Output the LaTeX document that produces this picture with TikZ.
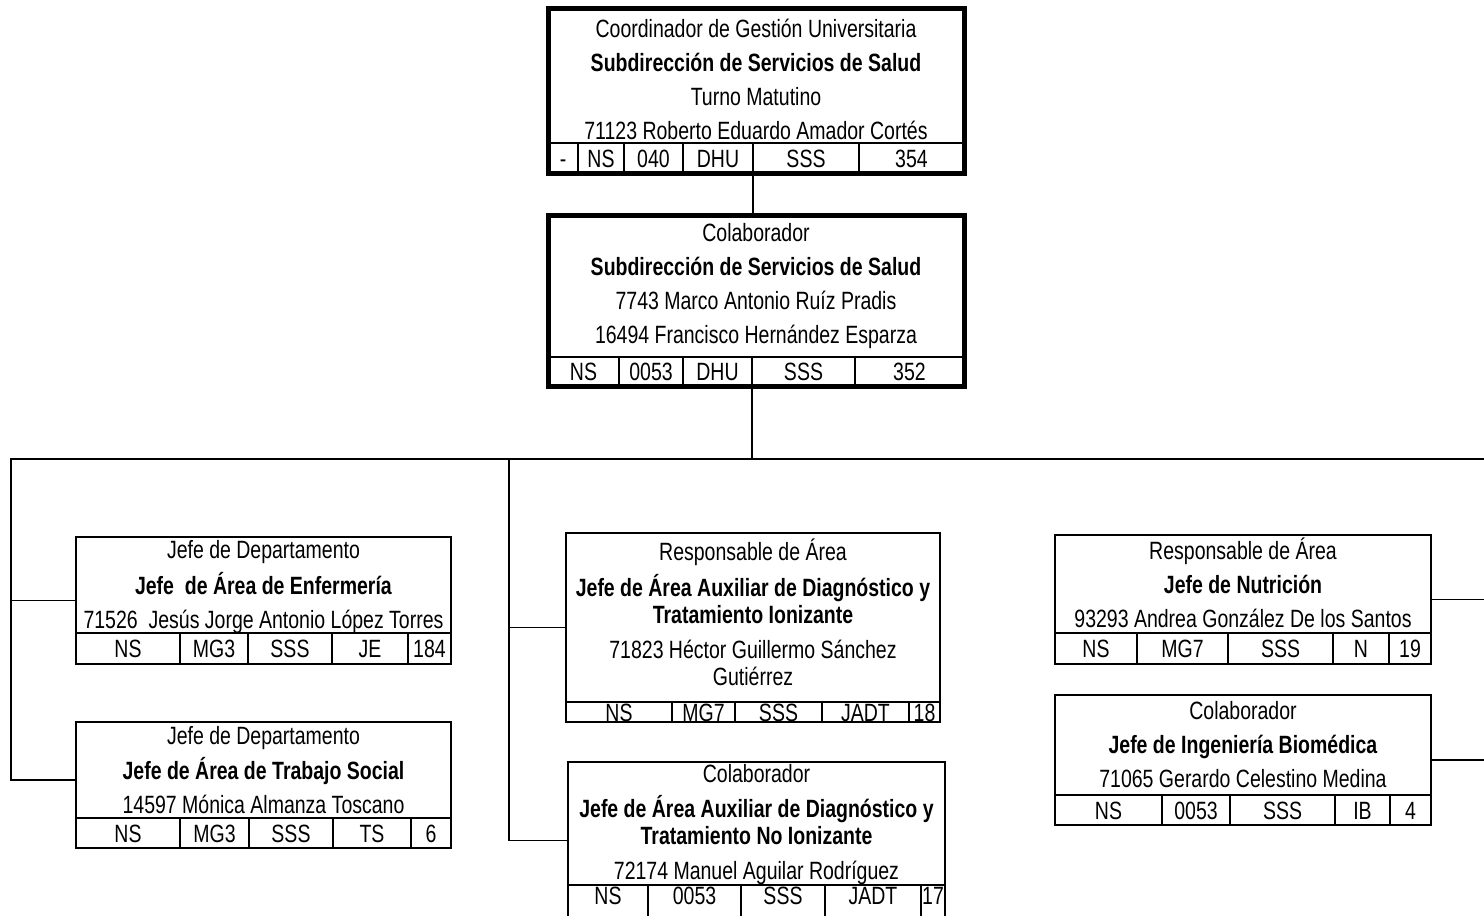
\documentclass[tikz,border=0pt]{standalone}
\usepackage{fontspec}
\setmainfont{Liberation Sans}[FakeStretch=0.78]
\usetikzlibrary{positioning,fit}

\tikzstyle{every node}=[font=\fontsize{25}{27}\selectfont, inner sep=0pt, outer sep=0pt]
\tikzstyle{area}=[anchor=north west, align=center]
\tikzstyle{cell}=[draw, line width=1.8pt, anchor=north west, minimum height=30pt, text height=18pt, text depth=0pt]
\tikzstyle{frame}=[draw, line width=2.8pt]
\tikzstyle{bigframe}=[draw, line width=5pt]
\tikzstyle{link}=[draw, line width=1.8pt]

\begin{document}
\begin{tikzpicture}[x=1pt,y=-1pt]
    \useasboundingbox (0,0) rectangle (1484,916);

    % coordinador
    \node[area, minimum width=416pt, minimum height=142pt] (A) at (548,8)
      {Coordinador de Gestión Universitaria\\[7pt]\textbf{Subdirección de Servicios de Salud}\\[7pt]Turno Matutino\\[7pt]71123 Roberto Eduardo Amador Cortés};
    \node[cell, minimum width=30pt] (a1) at (548,143) {-};
    \node[cell, minimum width=46pt, right=0pt of a1] (a2) {NS};
    \node[cell, minimum width=59pt, right=0pt of a2] (a3) {040};
    \node[cell, minimum width=70pt, right=0pt of a3] (a4) {DHU};
    \node[cell, minimum width=106pt, right=0pt of a4] (a5) {SSS};
    \node[cell, minimum width=105pt, right=0pt of a5] (a6) {354};
    \node[bigframe, fit=(A)(a6)] (Af) {};

    % colaborador
    \node[area, minimum width=416pt, minimum height=142pt] (B) at (548,215)
      {Colaborador\\[7pt]\textbf{Subdirección de Servicios de Salud}\\[7pt]7743 Marco Antonio Ruíz Pradis\\[7pt]16494 Francisco Hernández Esparza};
    \node[cell, minimum width=71pt, minimum height=29pt] (b1) at (548,357) {NS};
    \node[cell, minimum width=64pt, minimum height=29pt, right=0pt of b1] (b2) {0053};
    \node[cell, minimum width=69pt, minimum height=29pt, right=0pt of b2] (b3) {DHU};
    \node[cell, minimum width=103pt, minimum height=29pt, right=0pt of b3] (b4) {SSS};
    \node[cell, minimum width=109pt, minimum height=29pt, right=0pt of b4] (b5) {352};
    \node[bigframe, fit=(B)(b5)] (Bf) {};

    % enfermeria
    \node[area, minimum width=375pt, minimum height=100pt] (C) at (76,537)
      {Jefe de Departamento\\[7pt]\textbf{Jefe\ \ de Área de Enfermería}\\[7pt]71526\ \ Jesús Jorge Antonio López Torres};
    \node[cell, minimum width=104pt, minimum height=31pt] (c1) at (76,633) {NS};
    \node[cell, minimum width=68pt, minimum height=31pt, right=0pt of c1] (c2) {MG3};
    \node[cell, minimum width=84pt, minimum height=31pt, right=0pt of c2] (c3) {SSS};
    \node[cell, minimum width=76pt, minimum height=31pt, right=0pt of c3] (c4) {JE};
    \node[cell, minimum width=43pt, minimum height=31pt, right=0pt of c4] (c5) {184};
    \node[frame, fit=(C)(c5)] (Cf) {};

    % trabajo social
    \node[area, minimum width=375pt, minimum height=96pt] (D) at (76,722)
      {Jefe de Departamento\\[7pt]\textbf{Jefe de Área de Trabajo Social}\\[7pt]14597 Mónica Almanza Toscano};
    \node[cell, minimum width=104pt] (d1) at (76,818) {NS};
    \node[cell, minimum width=69pt, right=0pt of d1] (d2) {MG3};
    \node[cell, minimum width=84pt, right=0pt of d2] (d3) {SSS};
    \node[cell, minimum width=78pt, right=0pt of d3] (d4) {TS};
    \node[cell, minimum width=40pt, right=0pt of d4] (d5) {6};
    \node[frame, fit=(D)(d5)] (Df) {};

    % ionizante
    \node[area, minimum width=374pt, minimum height=159pt] (E) at (566,533)
      {Responsable de Área\\[8pt]\textbf{Jefe de Área Auxiliar de Diagnóstico y}\\\textbf{Tratamiento Ionizante}\\[8pt]71823 Héctor Guillermo Sánchez\\Gutiérrez};
    \node[cell, minimum width=106pt, minimum height=20pt] (e1) at (566,702) {NS};
    \node[cell, minimum width=63pt, minimum height=20pt, right=0pt of e1] (e2) {MG7};
    \node[cell, minimum width=87pt, minimum height=20pt, right=0pt of e2] (e3) {SSS};
    \node[cell, minimum width=87pt, minimum height=20pt, right=0pt of e3] (e4) {JADT};
    \node[cell, minimum width=31pt, minimum height=20pt, right=0pt of e4] (e5) {18};
    \node[frame, fit=(E)(e5)] (Ef) {};

    % no ionizante
    \node[area, minimum width=377pt, minimum height=125pt] (F) at (568,762)
      {Colaborador\\[8pt]\textbf{Jefe de Área Auxiliar de Diagnóstico y}\\\textbf{Tratamiento No Ionizante}\\[8pt]72174 Manuel Aguilar Rodríguez};
    \node[cell, minimum width=80pt, minimum height=34pt, text depth=14pt] (f1) at (568,885) {NS};
    \node[cell, minimum width=93pt, minimum height=34pt, text depth=14pt, right=0pt of f1] (f2) {0053};
    \node[cell, minimum width=84pt, minimum height=34pt, text depth=14pt, right=0pt of f2] (f3) {SSS};
    \node[cell, minimum width=96pt, minimum height=34pt, text depth=14pt, right=0pt of f3] (f4) {JADT};
    \node[cell, minimum width=24pt, minimum height=34pt, text depth=14pt, right=0pt of f4] (f5) {17};
    \node[frame, fit=(F)(f5)] (Ff) {};

    % nutricion
    \node[area, minimum width=376pt, minimum height=96pt] (G) at (1055,535)
      {Responsable de Área\\[7pt]\textbf{Jefe de Nutrición}\\[7pt]93293 Andrea González De los Santos};
    \node[cell, minimum width=82pt, minimum height=31pt] (g1) at (1055,633) {NS};
    \node[cell, minimum width=91pt, minimum height=31pt, right=0pt of g1] (g2) {MG7};
    \node[cell, minimum width=105pt, minimum height=31pt, right=0pt of g2] (g3) {SSS};
    \node[cell, minimum width=56pt, minimum height=31pt, right=0pt of g3] (g4) {N};
    \node[cell, minimum width=42pt, minimum height=31pt, right=0pt of g4] (g5) {19};
    \node[frame, fit=(G)(g5)] (Gf) {};

    % biomedica
    \node[area, minimum width=376pt, minimum height=100pt] (H) at (1055,695)
      {Colaborador\\[7pt]\textbf{Jefe de Ingeniería Biomédica}\\[7pt]71065 Gerardo Celestino Medina};
    \node[cell, minimum width=107pt] (h1) at (1055,795) {NS};
    \node[cell, minimum width=68pt, right=0pt of h1] (h2) {0053};
    \node[cell, minimum width=105pt, right=0pt of h2] (h3) {SSS};
    \node[cell, minimum width=55pt, right=0pt of h3] (h4) {IB};
    \node[cell, minimum width=41pt, right=0pt of h4] (h5) {4};
    \node[frame, fit=(H)(h5)] (Hf) {};

    \coordinate (busL) at (11,459);
    \coordinate (busM) at (509,459);
    \coordinate (busR) at (1484,459);

    \path[link]
    (a4.south east) -- (a4.south east |- B.north)
    (b3.south east) -- (b3.south east |- busL)
    (busR) -- (busL) |- ([yshift=5pt]Df.west)
    (busL |- Cf.west) -- (Cf.west)
    (busM) |- (Ff.west)
    (busM |- Ef.west) -- (Ef.west)
    (Gf.east) -- (Gf.east -| busR)
    (Hf.east) -- (Hf.east -| busR)
    ;
\end{tikzpicture}
\end{document}
